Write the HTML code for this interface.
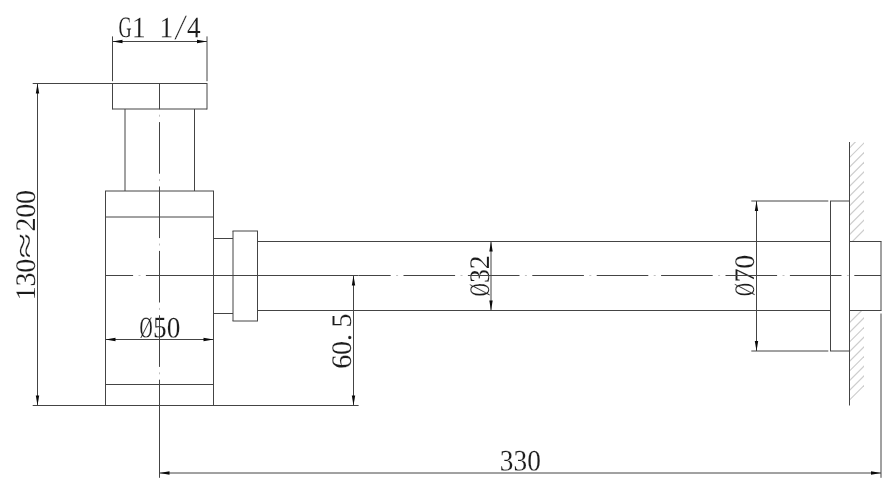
<!DOCTYPE html>
<html lang="en">
<head>
<meta charset="utf-8">
<title>Bottle trap dimension drawing</title>
<style>
html,body{margin:0;padding:0;background:#fff;}
body{width:888px;height:487px;overflow:hidden;}
svg{display:block;will-change:transform;}
svg text{font-family:"Liberation Serif","Noto Serif CJK SC",serif;font-size:27.5px;fill:#1c1c1c;text-rendering:geometricPrecision;stroke:#fff;stroke-width:0.12px;}
</style>
</head>
<body>
<svg width="888" height="487" viewBox="0 0 888 487" role="img" aria-label="Bottle trap dimension drawing">
<rect width="888" height="487" fill="#fff"/>
<g class="t" aria-label="G1 1/4" transform="translate(118.1,37.1) rotate(0.2)"><text transform="translate(6.88,0) scale(0.66,1.08)" text-anchor="middle">G</text><text transform="scale(0.99,1.08)" x="20.83 34.72 48.61" text-anchor="middle">1 1</text><text transform="translate(60.27,2.0) skewX(-11) scale(1,1.3)" text-anchor="middle">/</text><text transform="scale(0.99,1.08)" x="76.39" text-anchor="middle">4</text></g>
<g class="t" aria-label="Ø50" transform="translate(139.2,337.3) rotate(0.2)"><text transform="translate(6.88,0) scale(0.66,1.08)" text-anchor="middle">Ø</text><text transform="scale(0.99,1.08)" x="20.83 34.72" text-anchor="middle">50</text></g>
<g class="t" aria-label="330" transform="translate(499.8,470.5) rotate(0.2)"><text transform="scale(0.99,1.08)" x="6.94 20.83 34.72" text-anchor="middle">330</text></g>
<g class="t" aria-label="130≈200" transform="translate(35,300) rotate(-90)"><text transform="scale(1.02,1.03)" x="6.74 20.22 33.70" text-anchor="middle">130</text><text transform="translate(54.40,-0.6) scale(1.7,1.0)" text-anchor="middle">≈</text><text transform="scale(1.02,1.03)" x="74.14 87.62 101.10" text-anchor="middle">200</text></g>
<g class="t" aria-label="60.5" transform="translate(351.4,368.7) rotate(-90)"><text transform="scale(1.02,1.03)" x="6.74 20.22 30.49 47.18" text-anchor="middle">60.5</text></g>
<g class="t" aria-label="Ø32" transform="translate(489,296.5) rotate(-90)"><text transform="translate(6.88,0) scale(0.66,1.03)" text-anchor="middle">Ø</text><text transform="scale(1.02,1.03)" x="20.22 33.70" text-anchor="middle">32</text></g>
<g class="t" aria-label="Ø70" transform="translate(754.4,296.2) rotate(-90)"><text transform="translate(6.88,0) scale(0.66,1.03)" text-anchor="middle">Ø</text><text transform="scale(1.02,1.03)" x="20.22 33.70" text-anchor="middle">70</text></g>
<line x1="112.5" y1="83.5" x2="207.0" y2="83.5" stroke="#444444" stroke-width="1"/>
<line x1="112.5" y1="83.0" x2="112.5" y2="109.5" stroke="#444444" stroke-width="1"/>
<line x1="207.0" y1="83.0" x2="207.0" y2="109.5" stroke="#444444" stroke-width="1"/>
<line x1="112.5" y1="109.0" x2="207.0" y2="109.0" stroke="#444444" stroke-width="1"/>
<line x1="125.0" y1="109.0" x2="125.0" y2="191.0" stroke="#444444" stroke-width="1"/>
<line x1="194.5" y1="109.0" x2="194.5" y2="191.0" stroke="#444444" stroke-width="1"/>
<line x1="105.0" y1="191.0" x2="214.0" y2="191.0" stroke="#444444" stroke-width="1"/>
<line x1="105.5" y1="191.0" x2="105.5" y2="405.5" stroke="#444444" stroke-width="1"/>
<line x1="213.5" y1="191.0" x2="213.5" y2="405.5" stroke="#444444" stroke-width="1"/>
<line x1="105.5" y1="217.0" x2="213.5" y2="217.0" stroke="#444444" stroke-width="1"/>
<line x1="105.5" y1="384.5" x2="213.5" y2="384.5" stroke="#444444" stroke-width="1"/>
<line x1="213.5" y1="238.5" x2="233.0" y2="238.5" stroke="#444444" stroke-width="1"/>
<line x1="213.5" y1="313.5" x2="233.0" y2="313.5" stroke="#444444" stroke-width="1"/>
<line x1="232.5" y1="231.0" x2="258.0" y2="231.0" stroke="#444444" stroke-width="1"/>
<line x1="232.5" y1="321.0" x2="258.0" y2="321.0" stroke="#444444" stroke-width="1"/>
<line x1="233.0" y1="231.0" x2="233.0" y2="321.0" stroke="#444444" stroke-width="1"/>
<line x1="257.5" y1="231.0" x2="257.5" y2="321.0" stroke="#444444" stroke-width="1"/>
<line x1="257.5" y1="241.5" x2="830.5" y2="241.5" stroke="#444444" stroke-width="1"/>
<line x1="257.5" y1="310.5" x2="830.5" y2="310.5" stroke="#444444" stroke-width="1"/>
<line x1="830.0" y1="201.0" x2="850.0" y2="201.0" stroke="#444444" stroke-width="1"/>
<line x1="830.0" y1="351.0" x2="850.0" y2="351.0" stroke="#444444" stroke-width="1"/>
<line x1="830.5" y1="201.0" x2="830.5" y2="351.0" stroke="#444444" stroke-width="1"/>
<line x1="849.5" y1="201.0" x2="849.5" y2="351.0" stroke="#444444" stroke-width="1"/>
<line x1="849.5" y1="142" x2="849.5" y2="405.5" stroke="#444444" stroke-width="1"/>
<clipPath id="hc"><rect x="850" y="142" width="14" height="99.5"/><rect x="850" y="310.5" width="14" height="96"/></clipPath>
<g clip-path="url(#hc)" stroke="#cdcdcd" stroke-width="1.2">
<line x1="849.5" y1="147.8" x2="866" y2="131.3"/>
<line x1="849.5" y1="157.5" x2="866" y2="141.0"/>
<line x1="849.5" y1="167.1" x2="866" y2="150.6"/>
<line x1="849.5" y1="176.8" x2="866" y2="160.3"/>
<line x1="849.5" y1="186.4" x2="866" y2="169.9"/>
<line x1="849.5" y1="196.1" x2="866" y2="179.6"/>
<line x1="849.5" y1="205.8" x2="866" y2="189.3"/>
<line x1="849.5" y1="215.4" x2="866" y2="198.9"/>
<line x1="849.5" y1="225.1" x2="866" y2="208.6"/>
<line x1="849.5" y1="234.7" x2="866" y2="218.2"/>
<line x1="849.5" y1="244.4" x2="866" y2="227.9"/>
<line x1="849.5" y1="322.7" x2="866" y2="306.2"/>
<line x1="849.5" y1="332.4" x2="866" y2="315.9"/>
<line x1="849.5" y1="342.0" x2="866" y2="325.5"/>
<line x1="849.5" y1="351.7" x2="866" y2="335.2"/>
<line x1="849.5" y1="361.3" x2="866" y2="344.8"/>
<line x1="849.5" y1="371.0" x2="866" y2="354.5"/>
<line x1="849.5" y1="380.7" x2="866" y2="364.2"/>
<line x1="849.5" y1="390.3" x2="866" y2="373.8"/>
<line x1="849.5" y1="400.0" x2="866" y2="383.5"/>
</g>
<line x1="849.5" y1="241.5" x2="881.5" y2="241.5" stroke="#444444" stroke-width="1"/>
<line x1="849.5" y1="310.5" x2="881.5" y2="310.5" stroke="#444444" stroke-width="1"/>
<line x1="881.0" y1="241.5" x2="881.0" y2="310.5" stroke="#444444" stroke-width="1"/>
<line x1="105.5" y1="275.5" x2="133.1" y2="275.5" stroke="#444444" stroke-width="1"/>
<line x1="138.5" y1="275.5" x2="140.5" y2="275.5" stroke="#c0c0c0" stroke-width="1"/>
<line x1="145.9" y1="275.5" x2="358.6" y2="275.5" stroke="#444444" stroke-width="1"/>
<line x1="358.6" y1="275.5" x2="390.70000000000005" y2="275.5" stroke="#444444" stroke-width="1"/>
<line x1="396.1" y1="275.5" x2="398.1" y2="275.5" stroke="#c0c0c0" stroke-width="1"/>
<line x1="403.5" y1="275.5" x2="455.1" y2="275.5" stroke="#444444" stroke-width="1"/>
<line x1="460.5" y1="275.5" x2="462.5" y2="275.5" stroke="#c0c0c0" stroke-width="1"/>
<line x1="467.9" y1="275.5" x2="519.5000000000001" y2="275.5" stroke="#444444" stroke-width="1"/>
<line x1="524.9000000000001" y1="275.5" x2="526.9000000000001" y2="275.5" stroke="#c0c0c0" stroke-width="1"/>
<line x1="532.3000000000001" y1="275.5" x2="583.9000000000001" y2="275.5" stroke="#444444" stroke-width="1"/>
<line x1="589.3000000000001" y1="275.5" x2="591.3000000000001" y2="275.5" stroke="#c0c0c0" stroke-width="1"/>
<line x1="596.7" y1="275.5" x2="648.3000000000001" y2="275.5" stroke="#444444" stroke-width="1"/>
<line x1="653.7" y1="275.5" x2="655.7" y2="275.5" stroke="#c0c0c0" stroke-width="1"/>
<line x1="661.1" y1="275.5" x2="712.7" y2="275.5" stroke="#444444" stroke-width="1"/>
<line x1="718.1" y1="275.5" x2="720.1" y2="275.5" stroke="#c0c0c0" stroke-width="1"/>
<line x1="725.5" y1="275.5" x2="777.1" y2="275.5" stroke="#444444" stroke-width="1"/>
<line x1="782.5" y1="275.5" x2="784.5" y2="275.5" stroke="#c0c0c0" stroke-width="1"/>
<line x1="789.9" y1="275.5" x2="841.5000000000001" y2="275.5" stroke="#444444" stroke-width="1"/>
<line x1="846.9000000000001" y1="275.5" x2="848.9000000000001" y2="275.5" stroke="#c0c0c0" stroke-width="1"/>
<line x1="854.3000000000001" y1="275.5" x2="881.0" y2="275.5" stroke="#444444" stroke-width="1"/>
<line x1="159.5" y1="83.5" x2="159.5" y2="109.3" stroke="#444444" stroke-width="1"/>
<line x1="159.5" y1="114.7" x2="159.5" y2="116.7" stroke="#c0c0c0" stroke-width="1"/>
<line x1="159.5" y1="122.10000000000001" x2="159.5" y2="173.70000000000002" stroke="#444444" stroke-width="1"/>
<line x1="159.5" y1="179.10000000000002" x2="159.5" y2="181.10000000000002" stroke="#c0c0c0" stroke-width="1"/>
<line x1="159.5" y1="186.50000000000003" x2="159.5" y2="238.1" stroke="#444444" stroke-width="1"/>
<line x1="159.5" y1="243.5" x2="159.5" y2="245.5" stroke="#c0c0c0" stroke-width="1"/>
<line x1="159.5" y1="250.9" x2="159.5" y2="302.50000000000006" stroke="#444444" stroke-width="1"/>
<line x1="159.5" y1="307.90000000000003" x2="159.5" y2="309.90000000000003" stroke="#c0c0c0" stroke-width="1"/>
<line x1="159.5" y1="315.3" x2="159.5" y2="366.90000000000003" stroke="#444444" stroke-width="1"/>
<line x1="159.5" y1="372.3" x2="159.5" y2="374.3" stroke="#c0c0c0" stroke-width="1"/>
<line x1="159.5" y1="379.7" x2="159.5" y2="477.8" stroke="#444444" stroke-width="1"/>
<line x1="112.5" y1="36.4" x2="112.5" y2="81.2" stroke="#444444" stroke-width="1"/>
<line x1="207.0" y1="36.4" x2="207.0" y2="81.2" stroke="#444444" stroke-width="1"/>
<line x1="112.5" y1="41.5" x2="207.0" y2="41.5" stroke="#444444" stroke-width="1"/>
<polygon points="112.50,41.50 122.50,39.80 122.50,43.20" fill="#0a0a0a"/>
<polygon points="207.00,41.50 197.00,39.80 197.00,43.20" fill="#0a0a0a"/>
<line x1="32.7" y1="83.5" x2="112.5" y2="83.5" stroke="#444444" stroke-width="1"/>
<line x1="32.7" y1="405.5" x2="358.6" y2="405.5" stroke="#444444" stroke-width="1"/>
<line x1="37.5" y1="83.5" x2="37.5" y2="405.5" stroke="#444444" stroke-width="1"/>
<polygon points="37.50,83.50 35.80,93.50 39.20,93.50" fill="#0a0a0a"/>
<polygon points="37.50,405.50 35.80,395.50 39.20,395.50" fill="#0a0a0a"/>
<line x1="105.5" y1="339.5" x2="213.5" y2="339.5" stroke="#444444" stroke-width="1"/>
<polygon points="105.50,339.50 115.50,337.80 115.50,341.20" fill="#0a0a0a"/>
<polygon points="213.50,339.50 203.50,337.80 203.50,341.20" fill="#0a0a0a"/>
<line x1="353.5" y1="275.5" x2="353.5" y2="405.5" stroke="#444444" stroke-width="1"/>
<polygon points="353.50,275.50 351.80,285.50 355.20,285.50" fill="#0a0a0a"/>
<polygon points="353.50,405.50 351.80,395.50 355.20,395.50" fill="#0a0a0a"/>
<line x1="491" y1="241.5" x2="491" y2="310.5" stroke="#444444" stroke-width="1"/>
<polygon points="491.00,241.50 489.30,251.50 492.70,251.50" fill="#0a0a0a"/>
<polygon points="491.00,310.50 489.30,300.50 492.70,300.50" fill="#0a0a0a"/>
<line x1="751.3" y1="201.0" x2="828.3" y2="201.0" stroke="#444444" stroke-width="1"/>
<line x1="751.3" y1="351.0" x2="828.3" y2="351.0" stroke="#444444" stroke-width="1"/>
<line x1="756.5" y1="201.0" x2="756.5" y2="351.0" stroke="#444444" stroke-width="1"/>
<polygon points="756.50,201.00 754.80,211.00 758.20,211.00" fill="#0a0a0a"/>
<polygon points="756.50,351.00 754.80,341.00 758.20,341.00" fill="#0a0a0a"/>
<line x1="881.0" y1="313.5" x2="881.0" y2="477.8" stroke="#444444" stroke-width="1"/>
<line x1="159.5" y1="473" x2="881.0" y2="473" stroke="#444444" stroke-width="1"/>
<polygon points="159.50,473.00 169.50,471.30 169.50,474.70" fill="#0a0a0a"/>
<polygon points="881.00,473.00 871.00,471.30 871.00,474.70" fill="#0a0a0a"/>
</svg>
</body>
</html>
